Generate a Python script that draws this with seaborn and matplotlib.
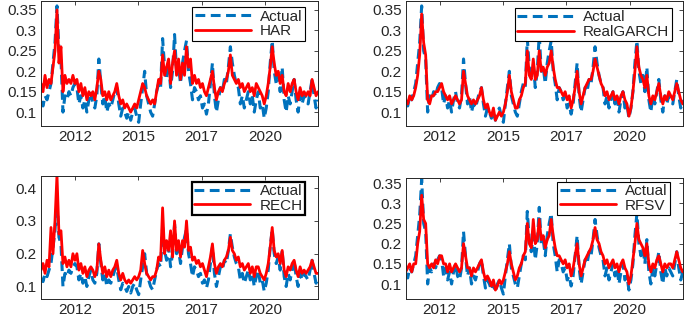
import numpy as np
import pandas as pd
import matplotlib
matplotlib.use('Agg')
import matplotlib.pyplot as plt
import seaborn as sns

sns.set_theme(style="white")
plt.rcParams['font.family'] = ['Liberation Sans', 'DejaVu Sans']

# realised volatility, one value every ~5 weeks
actual = [0.125, 0.115, 0.14, 0.13, 0.15, 0.17, 0.22, 0.27, 0.36, 0.25,
          0.23, 0.10, 0.14, 0.13, 0.15, 0.14, 0.16, 0.17, 0.16, 0.12,
          0.14, 0.11, 0.13, 0.10, 0.13, 0.15, 0.12, 0.11, 0.14, 0.23,
          0.17, 0.12, 0.14, 0.10, 0.12, 0.11, 0.13, 0.15, 0.16, 0.12,
          0.09, 0.11, 0.10, 0.085, 0.10, 0.08, 0.10, 0.11, 0.09, 0.075,
          0.12, 0.16, 0.20, 0.14, 0.12, 0.10, 0.09, 0.12, 0.15, 0.17,
          0.16, 0.28, 0.21, 0.18, 0.22, 0.16, 0.20, 0.29, 0.20, 0.21,
          0.17, 0.22, 0.25, 0.275, 0.20, 0.17, 0.13, 0.16, 0.15, 0.13,
          0.14, 0.11, 0.12, 0.095, 0.12, 0.17, 0.22, 0.14, 0.10, 0.13,
          0.16, 0.15, 0.18, 0.17, 0.21, 0.26, 0.22, 0.19, 0.17, 0.16,
          0.12, 0.14, 0.11, 0.13, 0.15, 0.12, 0.14, 0.10, 0.13, 0.15,
          0.11, 0.12, 0.085, 0.11, 0.15, 0.22, 0.275, 0.20, 0.17, 0.19,
          0.15, 0.21, 0.13, 0.10, 0.14, 0.12, 0.15, 0.18, 0.13, 0.10,
          0.14, 0.12, 0.14, 0.13, 0.12, 0.15, 0.18, 0.14, 0.11, 0.13]

har = [0.17, 0.15, 0.19, 0.16, 0.18, 0.17, 0.21, 0.25, 0.35, 0.22,
       0.26, 0.15, 0.19, 0.17, 0.18, 0.17, 0.19, 0.17, 0.18, 0.15,
       0.17, 0.14, 0.16, 0.13, 0.15, 0.14, 0.15, 0.13, 0.16, 0.20,
       0.18, 0.14, 0.15, 0.13, 0.15, 0.13, 0.14, 0.15, 0.17, 0.14,
       0.12, 0.13, 0.11, 0.12, 0.11, 0.10, 0.11, 0.12, 0.11, 0.13,
       0.15, 0.17, 0.16, 0.14, 0.13, 0.12, 0.13, 0.12, 0.15, 0.18,
       0.17, 0.24, 0.19, 0.21, 0.23, 0.17, 0.22, 0.25, 0.19, 0.23,
       0.18, 0.22, 0.19, 0.26, 0.21, 0.23, 0.17, 0.19, 0.17, 0.18,
       0.16, 0.17, 0.15, 0.14, 0.16, 0.18, 0.20, 0.16, 0.13, 0.15,
       0.16, 0.15, 0.17, 0.18, 0.20, 0.24, 0.19, 0.18, 0.17, 0.18,
       0.16, 0.17, 0.15, 0.16, 0.17, 0.15, 0.16, 0.14, 0.17, 0.16,
       0.15, 0.14, 0.12, 0.14, 0.17, 0.21, 0.26, 0.22, 0.19, 0.20,
       0.17, 0.19, 0.15, 0.14, 0.17, 0.15, 0.17, 0.18, 0.15, 0.13,
       0.16, 0.14, 0.15, 0.14, 0.15, 0.14, 0.18, 0.16, 0.14, 0.15]

realgarch = [0.13, 0.12, 0.14, 0.13, 0.14, 0.16, 0.19, 0.24, 0.34, 0.27,
             0.24, 0.13, 0.12, 0.14, 0.14, 0.15, 0.15, 0.16, 0.17, 0.15,
             0.14, 0.13, 0.14, 0.12, 0.13, 0.14, 0.13, 0.12, 0.13, 0.20,
             0.17, 0.14, 0.13, 0.12, 0.13, 0.12, 0.13, 0.14, 0.16, 0.13,
             0.11, 0.12, 0.10, 0.09, 0.11, 0.08, 0.09, 0.10, 0.09, 0.10,
             0.12, 0.15, 0.19, 0.15, 0.13, 0.11, 0.11, 0.13, 0.14, 0.16,
             0.17, 0.25, 0.19, 0.18, 0.23, 0.18, 0.19, 0.25, 0.20, 0.21,
             0.19, 0.21, 0.22, 0.25, 0.21, 0.18, 0.16, 0.16, 0.15, 0.14,
             0.15, 0.13, 0.14, 0.11, 0.13, 0.16, 0.20, 0.15, 0.12, 0.14,
             0.16, 0.17, 0.18, 0.18, 0.20, 0.23, 0.21, 0.19, 0.17, 0.16,
             0.14, 0.15, 0.13, 0.14, 0.15, 0.13, 0.14, 0.12, 0.14, 0.15,
             0.13, 0.12, 0.09, 0.11, 0.15, 0.20, 0.26, 0.21, 0.19, 0.18,
             0.16, 0.19, 0.14, 0.12, 0.14, 0.13, 0.15, 0.17, 0.14, 0.12,
             0.14, 0.13, 0.15, 0.14, 0.13, 0.15, 0.17, 0.15, 0.13, 0.12]

rech = [0.15, 0.17, 0.14, 0.18, 0.16, 0.28, 0.20, 0.30, 0.44, 0.26,
        0.27, 0.17, 0.19, 0.16, 0.18, 0.16, 0.20, 0.18, 0.20, 0.15,
        0.17, 0.14, 0.16, 0.13, 0.15, 0.16, 0.15, 0.13, 0.15, 0.23,
        0.18, 0.14, 0.16, 0.13, 0.15, 0.13, 0.15, 0.16, 0.18, 0.14,
        0.12, 0.14, 0.12, 0.11, 0.12, 0.11, 0.12, 0.13, 0.12, 0.13,
        0.15, 0.21, 0.17, 0.14, 0.13, 0.12, 0.13, 0.13, 0.15, 0.19,
        0.18, 0.34, 0.20, 0.24, 0.21, 0.27, 0.19, 0.30, 0.21, 0.24,
        0.19, 0.24, 0.22, 0.30, 0.21, 0.22, 0.18, 0.19, 0.17, 0.18,
        0.16, 0.17, 0.15, 0.13, 0.16, 0.19, 0.23, 0.17, 0.14, 0.16,
        0.17, 0.16, 0.18, 0.19, 0.21, 0.25, 0.21, 0.20, 0.18, 0.19,
        0.16, 0.17, 0.15, 0.16, 0.17, 0.14, 0.16, 0.13, 0.16, 0.16,
        0.14, 0.13, 0.12, 0.14, 0.17, 0.22, 0.28, 0.21, 0.19, 0.20,
        0.17, 0.21, 0.15, 0.13, 0.16, 0.15, 0.17, 0.18, 0.15, 0.13,
        0.16, 0.14, 0.15, 0.14, 0.15, 0.16, 0.18, 0.16, 0.14, 0.14]

rfsv = [0.13, 0.14, 0.15, 0.13, 0.15, 0.15, 0.20, 0.23, 0.32, 0.26,
        0.25, 0.15, 0.14, 0.15, 0.14, 0.16, 0.15, 0.17, 0.17, 0.15,
        0.15, 0.13, 0.15, 0.13, 0.14, 0.15, 0.14, 0.13, 0.14, 0.20,
        0.17, 0.14, 0.14, 0.12, 0.14, 0.13, 0.14, 0.15, 0.16, 0.13,
        0.11, 0.12, 0.11, 0.095, 0.11, 0.085, 0.095, 0.11, 0.10, 0.11,
        0.13, 0.15, 0.18, 0.15, 0.13, 0.11, 0.12, 0.14, 0.15, 0.17,
        0.18, 0.25, 0.20, 0.19, 0.26, 0.20, 0.21, 0.26, 0.21, 0.22,
        0.19, 0.21, 0.22, 0.26, 0.22, 0.19, 0.17, 0.17, 0.16, 0.15,
        0.16, 0.14, 0.15, 0.12, 0.14, 0.17, 0.20, 0.15, 0.12, 0.14,
        0.16, 0.17, 0.18, 0.19, 0.21, 0.24, 0.21, 0.20, 0.18, 0.17,
        0.15, 0.16, 0.14, 0.15, 0.16, 0.14, 0.15, 0.13, 0.15, 0.16,
        0.14, 0.13, 0.10, 0.12, 0.16, 0.20, 0.25, 0.21, 0.20, 0.19,
        0.17, 0.20, 0.15, 0.13, 0.15, 0.14, 0.16, 0.17, 0.15, 0.13,
        0.15, 0.14, 0.15, 0.15, 0.14, 0.16, 0.18, 0.16, 0.14, 0.13]

year_ticks = [17, 48.8, 80.6, 112.3]
year_labels = ['2012', '2015', '2017', '2020']

models = ['HAR', 'RealGARCH', 'RECH', 'RFSV']
model_values = [har, realgarch, rech, rfsv]
ylims = [(0.066, 0.372), (0.066, 0.372), (0.062, 0.438), (0.063, 0.362)]
yticks = [[0.1, 0.15, 0.2, 0.25, 0.3, 0.35], [0.1, 0.15, 0.2, 0.25, 0.3, 0.35],
          [0.1, 0.2, 0.3, 0.4], [0.1, 0.15, 0.2, 0.25, 0.3, 0.35]]

rects = [(0.0599, 0.6013, 0.4044, 0.3956), (0.5923, 0.6013, 0.4044, 0.3956),
         (0.0599, 0.0540, 0.4044, 0.3900), (0.5923, 0.0540, 0.4044, 0.3818)]
legend_anchor = [(0.953, 0.95), (0.960, 0.944), (0.953, 0.952), (0.954, 0.972)]

idx = np.arange(len(actual))
fig = plt.figure(figsize=(6.85, 3.16), dpi=100)

for k, model in enumerate(models):
    ax = fig.add_axes(rects[k])
    df = pd.DataFrame({'t': idx, 'Actual': actual, model: model_values[k]})
    sns.lineplot(data=df, x='t', y='Actual', ax=ax, color='#0072BD',
                 linewidth=2.2, linestyle=(0, (3.2, 1.8)), label='Actual')
    sns.lineplot(data=df, x='t', y=model, ax=ax, color='#FF0000',
                 linewidth=2.0, label=model)
    ax.set_xlim(0, len(actual) - 1)
    ax.set_ylim(*ylims[k])
    ax.set_xticks(year_ticks)
    ax.set_xticklabels(year_labels)
    ax.set_yticks(yticks[k])
    ax.set_yticklabels([f'{v:g}' for v in yticks[k]])
    ax.set_xlabel('')
    ax.set_ylabel('')
    ax.tick_params(direction='in', length=3, width=0.6, top=True, right=True,
                   labelsize=11, colors='#262626', pad=3)
    for s in ax.spines.values():
        s.set_color('#262626')
        s.set_linewidth(0.7)
    leg = ax.legend(loc='upper right', bbox_to_anchor=legend_anchor[k],
                    borderaxespad=0, fontsize=11, handlelength=3.7,
                    fancybox=False, framealpha=1, borderpad=0.15,
                    labelspacing=0.05, handletextpad=0.6)
    leg.get_frame().set_edgecolor('black')
    leg.get_frame().set_linewidth(1.6 if model == 'RECH' else 0.8)

fig.savefig('out.png', dpi=100, facecolor='white')
